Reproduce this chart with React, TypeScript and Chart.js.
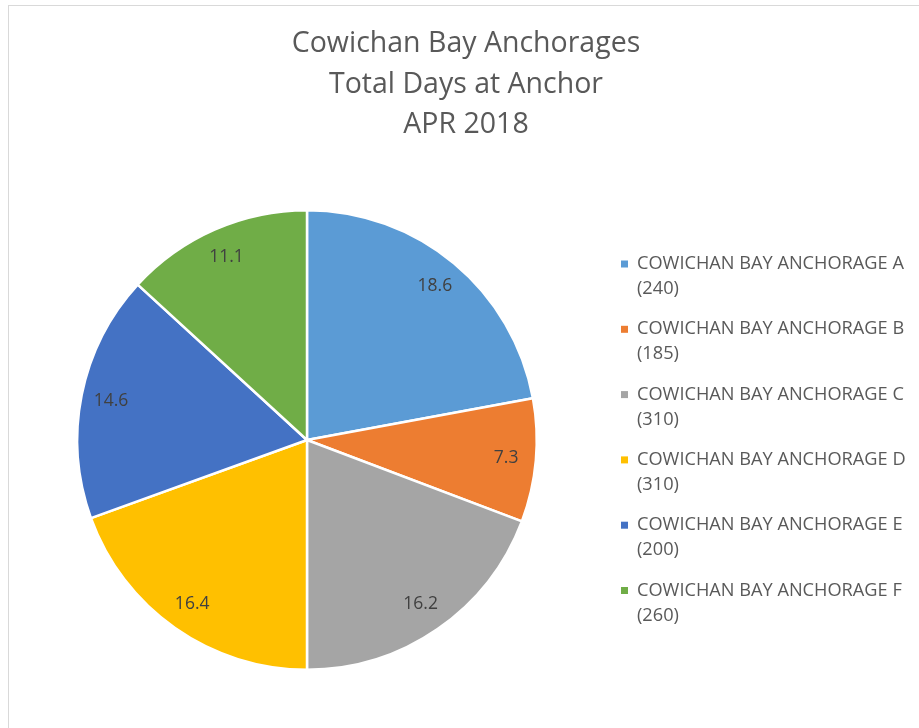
import { useEffect, useRef } from "react";
import { Chart, registerables } from "chart.js";

Chart.register(...registerables);

const TITLE_LINES = ["Cowichan Bay Anchorages", "Total Days at Anchor", "APR 2018"];
const CATEGORIES = [
  "COWICHAN BAY ANCHORAGE A",
  "COWICHAN BAY ANCHORAGE B",
  "COWICHAN BAY ANCHORAGE C",
  "COWICHAN BAY ANCHORAGE D",
  "COWICHAN BAY ANCHORAGE E",
  "COWICHAN BAY ANCHORAGE F",
];
const CATEGORY_TOTALS = ["(240)", "(185)", "(310)", "(310)", "(200)", "(260)"];
const DAYS_AT_ANCHOR = [18.6, 7.3, 16.2, 16.4, 14.6, 11.1];
const SLICE_COLORS = ["#5B9BD5", "#ED7D31", "#A5A5A5", "#FFC000", "#4472C4", "#70AD47"];

const FONT = "'Open Sans', Lato, sans-serif";
const W = 916;
const H = 722;

const titlePlugin = {
  id: "excelTitle",
  afterDraw(chart: any) {
    const ctx = chart.ctx;
    ctx.save();
    ctx.fillStyle = "#595959";
    ctx.font = `28.5px ${FONT}`;
    ctx.textAlign = "center";
    ctx.textBaseline = "middle";
    TITLE_LINES.forEach((line, i) => {
      ctx.fillText(line, 457, 38 + i * 40.5);
    });
    ctx.restore();
  },
};

const legendPlugin = {
  id: "excelLegend",
  afterDraw(chart: any) {
    const ctx = chart.ctx;
    const labels = chart.data.labels as string[];
    const colors = chart.data.datasets[0].backgroundColor as string[];
    ctx.save();
    ctx.font = `18.2px ${FONT}`;
    ctx.textAlign = "left";
    ctx.textBaseline = "middle";
    labels.forEach((label, i) => {
      const y = 258 + i * 65.3;
      ctx.fillStyle = colors[i];
      ctx.fillRect(612, y - 3.5, 7, 7);
      ctx.fillStyle = "#595959";
      ctx.fillText(label, 628, y);
      ctx.fillText(CATEGORY_TOTALS[i], 628, y + 25);
    });
    ctx.restore();
  },
};

const valueLabelPlugin = {
  id: "valueLabels",
  afterDatasetsDraw(chart: any) {
    const ctx = chart.ctx;
    const meta = chart.getDatasetMeta(0);
    const values = chart.data.datasets[0].data as number[];
    ctx.save();
    ctx.fillStyle = "#404040";
    ctx.font = `17.5px ${FONT}`;
    ctx.textAlign = "center";
    ctx.textBaseline = "middle";
    meta.data.forEach((arc: any, i: number) => {
      const p = arc.getProps(["x", "y", "startAngle", "endAngle", "outerRadius"], true);
      const mid = (p.startAngle + p.endAngle) / 2;
      const r = p.outerRadius * 0.87;
      ctx.fillText(values[i].toFixed(1), p.x + Math.cos(mid) * r, p.y + Math.sin(mid) * r);
    });
    ctx.restore();
  },
};

export default function App() {
  const canvasRef = useRef<HTMLCanvasElement | null>(null);

  useEffect(() => {
    if (!canvasRef.current) return;
    const chart = new Chart(canvasRef.current, {
      type: "pie",
      data: {
        labels: CATEGORIES,
        datasets: [
          {
            data: DAYS_AT_ANCHOR,
            backgroundColor: SLICE_COLORS,
            borderColor: "#FFFFFF",
            borderWidth: 2.5,
          },
        ],
      },
      options: {
        responsive: false,
        animation: false,
        layout: { padding: { left: 67, right: 387, top: 203, bottom: 57 } },
        plugins: {
          legend: { display: false },
          title: { display: false },
          tooltip: { enabled: false },
        },
      },
      plugins: [titlePlugin, legendPlugin, valueLabelPlugin],
    });
    return () => chart.destroy();
  }, []);

  return (
    <div
      style={{
        position: "fixed",
        left: 8,
        top: 5,
        width: W,
        height: H,
        border: "1px solid #D9D9D9",
        background: "#FFFFFF",
      }}
    >
      <canvas
        ref={canvasRef}
        width={W}
        height={H}
        style={{ position: "absolute", left: 0, top: 0, width: W, height: H }}
      />
    </div>
  );
}
